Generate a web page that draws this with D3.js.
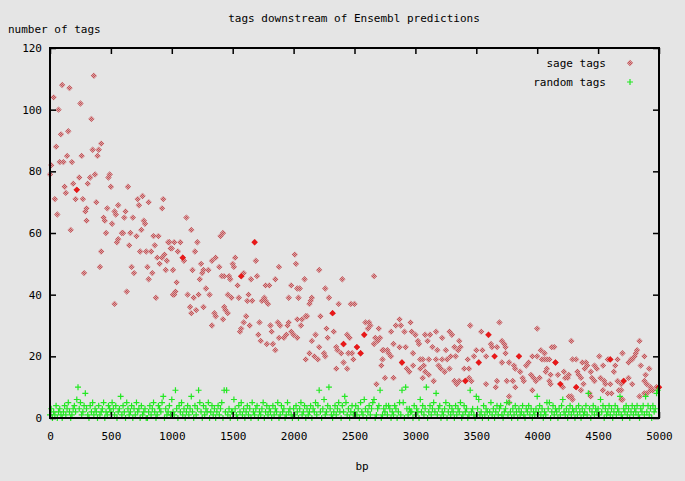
<!DOCTYPE html>
<html><head><meta charset="utf-8">
<script src="https://cdn.jsdelivr.net/npm/d3@7"></script>
<style>
html,body{margin:0;padding:0;background:#e5e5e5;}
svg{display:block;}
text{font-family:"DejaVu Sans Mono",monospace;font-size:11px;fill:#000;}
</style></head><body>
<svg id="chart" width="685" height="481"></svg>
<script>
// ---- data ----
const chartTitle = "tags downstream of Ensembl predictions";
const yLabel = "number of tags";
const xLabel = "bp";
const seriesNames = ["sage tags", "random tags"];
const xTicks = [0,500,1000,1500,2000,2500,3000,3500,4000,4500,5000];
const yTicks = [0,20,40,60,80,100,120];

// sage tags: [bp, number of tags]
const sageTags = [
[360,111],[100,108],[160,107],[30,104],[250,102],[70,100],[340,97],[90,92],[150,93],[50,88],[420,89],[350,87],[400,87],
[390,85],[140,85],[260,85],[80,83],[110,83],[180,83],[10,82],[0,79],[370,79],[490,79],[480,78],[240,78],[330,78],
[120,75],[190,76],[220,74],[310,76],[500,75],[640,75],[130,73],[40,71],[210,71],[270,71],[380,70],[760,72],[720,71],
[930,71],[300,68],[290,67],[560,69],[730,69],[810,70],[920,68],[60,66],[470,68],[530,67],[540,66],[620,67],[610,65],
[680,65],[300,64],[440,65],[450,64],[510,63],[770,64],[780,63],[170,61],[460,60],[590,60],[600,60],[660,60],[710,59],
[750,61],[850,59],[890,59],[560,58],[550,57],[650,56],[860,56],[970,57],[1000,55],[420,54],[740,54],[790,54],[830,54],
[940,53],[920,52],[880,52],[960,51],[900,50],[950,48],[1010,48],[410,49],[670,49],[800,49],[280,47],[690,47],[840,47],
[810,45],[630,41],[870,39],[1010,40],[530,37],
[1120,65],[1160,61],[1420,60],[1400,59],[1680,57],[980,57],[1020,57],[1070,57],[1210,57],[990,55],[1050,54],[1190,54],
[1090,52],[1100,51],[1330,51],[1360,52],[1240,50],[1520,52],[1690,51],[2010,53],[1500,50],[1510,49],[1390,49],[1880,49],
[2020,50],[1170,48],[1260,48],[1300,48],[1410,46],[1430,46],[1250,47],[1470,46],[1480,45],[1570,46],[1590,47],[1700,46],
[1650,45],[1850,45],[1230,45],[1040,44],[1540,43],[1770,43],[1800,43],[1980,43],[1280,42],[1020,40],[1030,41],[1130,40],
[1180,39],[1220,40],[1310,40],[1460,40],[1490,39],[1550,39],[1630,40],[1760,39],[1770,38],[1620,38],[1660,38],[1740,38],
[1790,37],[1960,39],[2030,42],[1150,36],[1200,35],[1160,34],[1260,36],[1350,34],[1360,33],[1430,36],[1440,35],[1460,34],
[1420,32],[1330,30],[1610,33],[1590,31],[1570,29],[1560,28],[1640,30],[1720,31],[1810,30],[1870,31],[1890,30],[1960,31],
[1950,30],[1820,28],[1710,27],[1880,26],[1920,26],[1940,27],[1980,28],[2000,27],[1730,25],[1780,24],[1830,24],[1850,22],
[2030,26],
[2660,46],[2210,48],[2400,45],[2090,45],[2050,42],[2040,39],[2260,42],[2290,39],[2150,39],[2140,38],[2130,37],[2470,37],
[2500,37],[2370,37],[2320,34],[2220,33],[2030,32],[2070,32],[2100,33],[2110,33],[2060,30],[2270,29],[2330,28],[2590,31],
[2620,31],[2630,30],[2610,29],[2580,27],[2440,27],[2460,26],[2670,26],[2710,26],[2700,29],[2800,28],[2840,30],[2880,30],
[2870,32],[2910,28],[2960,31],[2970,28],[3000,27],[3030,24],[3020,25],[3040,19],[2150,25],[2180,27],[2280,26],[2410,24],
[2520,23],[2550,21],[2210,23],[2250,21],[2260,20],[2130,21],[2100,19],[2170,20],[2200,19],[2350,23],[2360,22],[2390,21],
[2410,18],[2440,16],[2350,16],[2450,21],[2480,21],[2490,19],[2660,24],[2690,25],[2730,22],[2740,22],[2770,22],[2780,21],
[2800,20],[2730,19],[2720,17],[2820,24],[2870,23],[2920,23],[2980,21],[2890,18],[2930,16],[2950,15],[2980,17],[2750,13],
[2820,13],[2680,11],[3060,13],
[3690,31],[3450,30],[4000,29],[3540,28],[3600,27],[3080,27],[3120,27],[3170,28],[3280,28],[3300,27],[3360,25],[3100,25],
[3220,26],[3710,25],[3730,24],[3740,23],[3620,24],[3630,23],[3670,23],[3140,23],[3180,22],[3250,22],[3320,23],[3350,22],
[3370,23],[3500,22],[3550,22],[3060,19],[3110,19],[3170,19],[3220,19],[3260,19],[3290,20],[3330,20],[3430,19],[3480,20],
[3580,20],[3650,20],[3520,18],[3740,21],[3710,18],[3850,20],[3810,17],[3820,16],[3770,18],[3910,17],[3930,18],[3960,20],
[4000,20],[4040,19],[4080,19],[4030,22],[4060,21],[3070,17],[3040,16],[3190,17],[3210,16],[3240,15],[3280,16],[3400,16],
[3440,16],[3080,15],[3110,14],[3150,12],[3320,12],[3340,11],[3360,12],[3410,12],[3440,13],[3460,12],[3580,11],[3670,12],
[3660,10],[3750,12],[3860,15],[3880,13],[3890,12],[3800,12],[3950,14],[3970,13],[3990,12],[4020,13],[3820,10],[3960,9],
[3770,7],[3770,5],[4070,15],[4080,16],
[4280,25],[4840,25],[4120,23],[4140,23],[4820,22],[4810,21],[4800,20],[4780,19],[4100,19],[4060,19],[4150,18],[4290,19],
[4320,19],[4370,18],[4400,18],[4410,17],[4390,16],[4510,20],[4580,19],[4590,19],[4600,19],[4660,19],[4700,21],[4750,18],
[4770,19],[4880,20],[4470,17],[4490,16],[4540,17],[4850,17],[4920,16],[4640,17],[4110,14],[4170,14],[4220,15],[4260,14],
[4250,13],[4230,13],[4330,15],[4340,14],[4360,13],[4380,11],[4440,15],[4450,13],[4470,12],[4520,13],[4550,12],[4560,11],
[4600,11],[4630,15],[4660,12],[4690,11],[4710,12],[4750,13],[4780,11],[4880,12],[4890,14],[4900,11],[4930,10],[4100,12],
[4110,11],[4190,11],[4210,10],[4320,10],[4360,9],[4540,9],[4580,8],[4610,8],[4670,9],[4690,9],[4260,7],[4290,6],[4280,7],
[4440,7],[4430,8],[4690,6],[4700,6],[4840,7],[4880,8],[4950,9],[4980,10],[5000,10],[4900,8],[4930,9]
];

// sage-tag points that appear drawn in solid red in the reference (overlapping marks)
const sageSolid = [[220,74],[1680,57],[1090,52],[1570,46],[2320,34],[2410,24],[2520,23],[2550,21],[2580,27],[2890,18],
[3600,27],[3520,18],[3650,20],[3850,20],[3410,12],[4150,18],[4600,19],[4710,12],[4190,11],[4320,10],[5000,10]];

// random tags: one value every 10 bp, starting at 0 bp
const randomStep = 10;
const randomTags = [
1,3,0,2,1,4,0,2,3,1, 0,2,4,1,3,5,2,0,1,3, 4,2,6,10,3,5,1,2,4,8, 3,1,0,4,2,5,1,3,2,0, 4,1,2,3,5,0,2,1,4,3,
2,5,3,1,4,0,2,3,7,1, 4,2,0,5,3,1,2,4,0,3, 1,5,2,3,0,4,1,2,3,0, 0,2,4,1,3,5,2,0,1,4, 3,2,5,7,0,3,1,2,4,1,
6,2,1,9,3,0,4,2,5,1, 3,0,2,4,1,3,7,2,0,4, 1,3,9,5,2,0,4,1,3,2, 5,0,2,4,1,3,0,2,4,1, 3,5,0,9,2,9,1,3,0,2,
2,6,3,1,0,4,2,5,1,3, 0,2,4,1,3,0,5,2,1,3, 4,0,2,1,3,5,0,2,4,1, 3,2,0,4,1,3,2,5,0,1, 4,2,3,0,1,5,2,3,1,0,
3,1,4,2,0,3,5,1,2,4, 0,3,1,2,4,0,3,2,5,1, 4,9,2,0,3,6,1,2,4,10, 3,1,0,2,4,1,3,5,2,0, 4,2,7,5,1,3,0,2,4,1,
2,4,1,3,0,5,2,1,6,3, 0,2,4,1,3,5,6,0,1,3, 4,9,0,1,3,2,4,1,4,3, 0,2,1,4,3,0,2,5,1,9, 5,0,10,3,1,3,2,2,0,4,
1,3,2,0,6,2,4,1,3,10, 0,2,4,1,3,5,2,8,1,3, 4,0,2,1,3,5,0,2,4,1, 3,2,0,4,1,3,2,5,0,1, 4,2,3,0,1,9,2,3,1,0,
7,3,6,1,2,0,4,1,3,2, 0,2,5,1,3,0,2,4,1,3, 4,1,0,2,3,5,1,5,2,0, 3,1,4,2,0,3,1,2,4,1, 0,3,2,4,1,3,0,2,1,3,
7,2,4,1,3,0,2,1,5,3, 5,0,2,4,1,3,2,0,3,1, 4,6,2,1,3,0,2,4,1,3, 2,0,3,1,4,2,0,3,1,2, 4,1,8,3,0,2,4,1,3,2,
3,1,6,2,4,0,3,1,2,4, 1,3,0,2,4,1,3,2,7,1, 0,3,2,4,1,3,0,2,4,1, 3,2,4,1,0,3,2,4,1,7, 2,4,1,3,0,4,2,3,8,9
];

// ---- chart ----
const svg = d3.select("#chart");
const W = 685, H = 481;
const m = {left:50, right:26, top:48, bottom:63};
const x = d3.scaleLinear().domain([0,5000]).range([m.left, W - m.right]);
const y = d3.scaleLinear().domain([0,120]).range([H - m.bottom, m.top]);

svg.append("rect").attr("width",W).attr("height",H).attr("fill","#e5e5e5");

const defs = svg.append("defs");
const pat = defs.append("pattern").attr("id","hatch").attr("patternUnits","userSpaceOnUse")
  .attr("width",2).attr("height",2);
pat.append("rect").attr("width",2).attr("height",2).attr("fill","#dca2a4");
pat.append("rect").attr("width",1).attr("height",1).attr("fill","#c05458");
pat.append("rect").attr("x",1).attr("y",1).attr("width",1).attr("height",1).attr("fill","#c05458");

const diamond = (cx, cy, r) => `M${cx},${cy-r}L${cx+r},${cy}L${cx},${cy+r}L${cx-r},${cy}Z`;
const plus = (cx, cy, r) => `M${cx-r},${cy}H${cx+r}M${cx},${cy-r}V${cy+r}`;

const clip = defs.append("clipPath").attr("id","clip");
clip.append("rect").attr("x",m.left-4).attr("y",m.top).attr("width",W-m.left-m.right+8).attr("height",H-m.top-m.bottom+4);

const plot = svg.append("g").attr("clip-path","url(#clip)");

plot.append("g").selectAll("path").data(sageTags).join("path")
  .attr("d", d => diamond(x(d[0]), y(d[1]), 3.2))
  .attr("fill","url(#hatch)");
plot.append("g").selectAll("path").data(sageSolid).join("path")
  .attr("d", d => diamond(x(d[0]), y(d[1]), 3.2))
  .attr("fill","#e81818");

plot.append("g").selectAll("path").data(randomTags).join("path")
  .attr("d", (d,i) => plus(x(i*randomStep), y(d), 3))
  .attr("stroke","#22e822").attr("stroke-width",1.2).attr("fill","none");

// axes (gnuplot style: inward ticks, mirrored)
const tl = 6;
const styleAxis = g => { g.select(".domain").remove(); g.selectAll("line").attr("stroke","#000").attr("stroke-width",1.5); g.selectAll("text").style("font-family","'DejaVu Sans Mono',monospace").style("font-size","11px"); };
svg.append("g").attr("transform",`translate(0,${y(0)})`)
  .call(d3.axisBottom(x).tickValues(xTicks).tickSize(-tl).tickPadding(14).tickFormat(d3.format("d")))
  .call(styleAxis);
svg.append("g").attr("transform",`translate(0,${y(120)})`)
  .call(d3.axisTop(x).tickValues(xTicks).tickSize(-tl).tickFormat(""))
  .call(styleAxis);
svg.append("g").attr("transform",`translate(${x(0)},0)`)
  .call(d3.axisLeft(y).tickValues(yTicks).tickSize(-tl).tickPadding(8).tickFormat(d3.format("d")))
  .call(styleAxis);
svg.append("g").attr("transform",`translate(${x(5000)},0)`)
  .call(d3.axisRight(y).tickValues(yTicks).tickSize(-tl).tickFormat(""))
  .call(styleAxis);

svg.append("rect").attr("x",x(0)).attr("y",y(120)).attr("width",x(5000)-x(0)).attr("height",y(0)-y(120))
  .attr("fill","none").attr("stroke","#000").attr("stroke-width",2);

// titles
svg.append("text").attr("x",354).attr("y",22).attr("text-anchor","middle").text(chartTitle);
svg.append("text").attr("x",8).attr("y",33).text(yLabel);
svg.append("text").attr("x",362).attr("y",470).attr("text-anchor","middle").text(xLabel);

// legend
const leg = svg.append("g");
leg.append("text").attr("x",606).attr("y",67).attr("text-anchor","end").text(seriesNames[0]);
leg.append("path").attr("d", diamond(630, 63, 3.2)).attr("fill","url(#hatch)");
leg.append("text").attr("x",606).attr("y",86).attr("text-anchor","end").text(seriesNames[1]);
leg.append("path").attr("d", plus(630, 82, 3)).attr("stroke","#22e822").attr("stroke-width",1.2);
</script></body></html>
